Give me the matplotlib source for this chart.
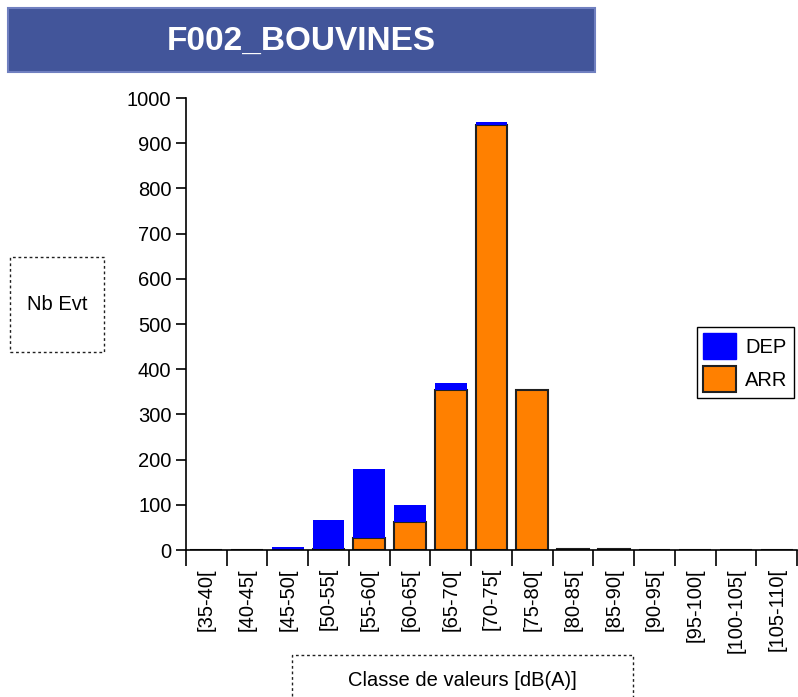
import matplotlib.pyplot as plt
from matplotlib.patches import Rectangle, Patch
import numpy as np

plt.rcParams['font.family'] = ['Liberation Sans', 'DejaVu Sans']

classes = ['[35-40[', '[40-45[', '[45-50[', '[50-55[', '[55-60[', '[60-65[',
           '[65-70[', '[70-75[', '[75-80[', '[80-85[', '[85-90[', '[90-95[',
           '[95-100[', '[100-105[', '[105-110[']
arr = [0, 0, 0, 2, 27, 62, 355, 940, 355, 2, 2, 0, 0, 0, 0]
dep = [0, 0, 6, 64, 152, 38, 14, 7, 0, 0, 0, 0, 0, 0, 0]
yticks = [0, 100, 200, 300, 400, 500, 600, 700, 800, 900, 1000]

W, H = 798, 697
fs = 14.5
fig = plt.figure(figsize=(W / 100, H / 100), dpi=100)
ax = fig.add_axes([186 / W, 1 - 550 / H, (797 - 186) / W, (550 - 98) / H])

x = np.arange(len(classes))
ax.bar(x, arr, width=0.78, color='#FF8000', edgecolor='#202020', linewidth=1.5, label='ARR', zorder=2)
ax.bar(x, dep, width=0.78, bottom=arr, color='#0000FF', linewidth=0, label='DEP', zorder=2)

ax.set_xlim(-0.5, len(classes) - 0.5)
ax.set_ylim(0, 1000)
ax.set_yticks(yticks)
ax.tick_params(axis='y', direction='out', length=7.5, width=1.2, pad=3, labelsize=fs)

ax.set_xticks(x)
ax.set_xticklabels(classes, rotation=90, fontsize=fs, va='top')
ax.set_xticks(np.arange(len(classes) + 1) - 0.5, minor=True)
ax.tick_params(axis='x', which='major', length=0, pad=13)
ax.tick_params(axis='x', which='minor', direction='out', length=11.5, width=1.2)

for s in ['top', 'right']:
    ax.spines[s].set_visible(False)
for s in ['left', 'bottom']:
    ax.spines[s].set_linewidth(1.2)

# title box
fig.patches.append(Rectangle((8 / W, 1 - 72 / H), (595 - 8) / W, (72 - 8) / H,
                             transform=fig.transFigure, facecolor='#42559A',
                             edgecolor='#7080C0', linewidth=1.5))
fig.text(301 / W, 1 - 41 / H, 'F002_BOUVINES', color='white', fontsize=24,
         fontweight='bold', ha='center', va='center')

# y label box
fig.patches.append(Rectangle((10 / W, 1 - 352 / H), 94 / W, 95 / H,
                             transform=fig.transFigure, facecolor='none',
                             edgecolor='#202020', linewidth=1, linestyle=(0, (2, 2))))
fig.text(57 / W, 1 - 305 / H, 'Nb Evt', fontsize=fs, ha='center', va='center')

# x label box
fig.patches.append(Rectangle((292 / W, 1 - 710 / H), 341 / W, 55 / H,
                             transform=fig.transFigure, facecolor='none',
                             edgecolor='#202020', linewidth=1, linestyle=(0, (2, 2)),
                             clip_on=False))
fig.text(462 / W, 1 - 680 / H, 'Classe de valeurs [dB(A)]', fontsize=fs,
         ha='center', va='center')

handles = [Patch(facecolor='#0000FF', edgecolor='#0000FF', label='DEP'),
           Patch(facecolor='#FF8000', edgecolor='#202020', linewidth=1.5, label='ARR')]
leg = fig.legend(handles=handles, loc='upper left', bbox_to_anchor=(697 / W, 1 - 327 / H),
                 fontsize=fs, fancybox=False, edgecolor='black', framealpha=1,
                 handlelength=1.65, handleheight=1.6, borderpad=0.3, labelspacing=0.35,
                 handletextpad=0.45, borderaxespad=0)
leg.get_frame().set_linewidth(1)

fig.savefig('out.png', dpi=100)
